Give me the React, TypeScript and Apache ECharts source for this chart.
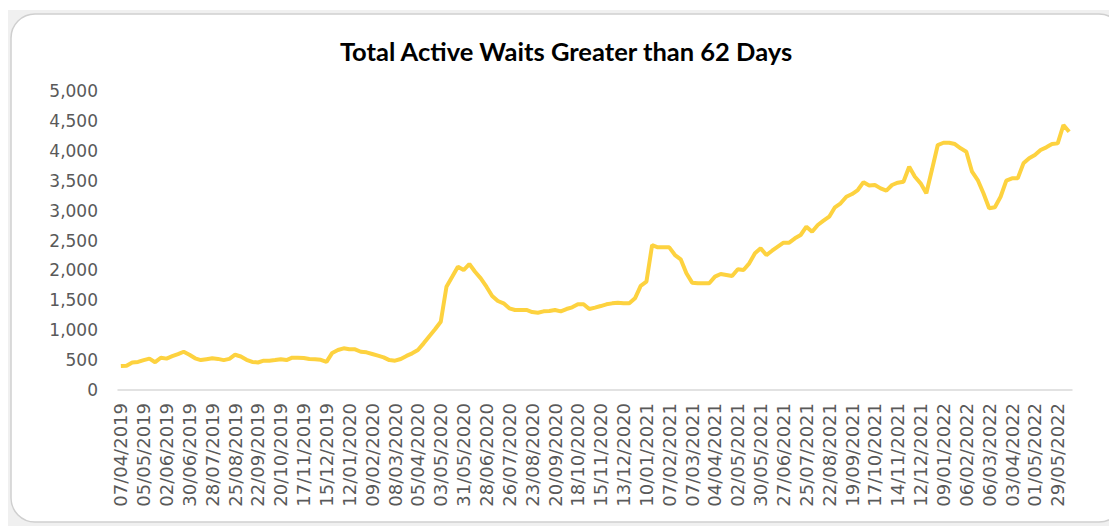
import React, { useEffect, useRef } from "react";
import * as echarts from "echarts";

const TITLE = "Total Active Waits Greater than 62 Days";
const START_DATE = "2019-04-07";
const WEEK_COUNT = 167;

const Y_MIN = 0;
const Y_MAX = 5000;
const Y_STEP = 500;

const values2019 = [
  400, 405, 460, 470, 500, 525, 465, 540, 525, 565, 600, 640, 590, 530, 500, 515,
  530, 520, 500, 520, 590, 560, 505, 470, 460, 490, 490, 500, 515, 500, 540, 540,
  535, 518, 513, 505, 470, 620, 669, 697,
];
const values2020 = [
  680, 680, 640, 630, 602, 574, 546, 500, 490, 518, 570, 613, 669, 780, 900, 1015,
  1142, 1727, 1894, 2062, 2006, 2107, 1978, 1867, 1727, 1572, 1488, 1449, 1366, 1338,
  1338, 1338, 1304, 1293, 1315, 1320, 1338, 1315, 1354, 1382, 1433, 1433, 1354, 1377,
  1404, 1433, 1449, 1460, 1449, 1449, 1533, 1740, 1811,
];
const values2021 = [
  2424, 2386, 2386, 2386, 2257, 2185, 1951, 1795, 1784, 1784, 1784, 1895, 1940, 1923,
  1906, 2018, 2007, 2118, 2285, 2369, 2257, 2329, 2396, 2463, 2463, 2536, 2592, 2731,
  2647, 2759, 2831, 2898, 3055, 3122, 3232, 3277, 3344, 3475, 3420, 3428, 3372, 3333,
  3428, 3466, 3483, 3734, 3566, 3456, 3289, 3690,
];
const values2022 = [
  4096, 4135, 4135, 4113, 4041, 3985, 3650, 3511, 3289, 3038, 3055, 3232, 3500, 3539,
  3539, 3790, 3874, 3929, 4013, 4058, 4113, 4124, 4431, 4319,
];

const seriesValues = [...values2019, ...values2020, ...values2021, ...values2022];

function pad(n: number) {
  return n < 10 ? "0" + n : "" + n;
}

function weeklyDates(start: string, count: number): string[] {
  const [y, m, d] = start.split("-").map(Number);
  const base = Date.UTC(y, m - 1, d);
  const out: string[] = [];
  for (let i = 0; i < count; i++) {
    const dt = new Date(base + i * 7 * 86400000);
    out.push(pad(dt.getUTCDate()) + "/" + pad(dt.getUTCMonth() + 1) + "/" + dt.getUTCFullYear());
  }
  return out;
}

const categories = weeklyDates(START_DATE, WEEK_COUNT);

export default function App() {
  const ref = useRef<HTMLDivElement>(null);
  useEffect(() => {
    if (!ref.current) return;
    const chart = echarts.init(ref.current, null, { renderer: "svg" });
    chart.setOption({
      animation: false,
      backgroundColor: "#ffffff",
      graphic: [
        {
          type: "rect",
          z: -10,
          silent: true,
          shape: { x: 8, y: 10, width: 1101, height: 516 },
          style: { fill: "#f0f0f0" },
        },
        {
          type: "rect",
          z: -9,
          silent: true,
          shape: { x: 11, y: 14, width: 1112, height: 508, r: 24 },
          style: { fill: "#ffffff", stroke: "#cfcfcf", lineWidth: 1.5 },
        },
      ],
      title: {
        text: TITLE,
        left: 561,
        top: 33,
        textAlign: "center",
        textStyle: {
          fontFamily: "Lato",
          fontWeight: "bold",
          fontSize: 25.5,
          color: "#000000",
        },
      },
      grid: { left: 118, right: 37, top: 91, bottom: 136, containLabel: false },
      xAxis: {
        type: "category",
        data: categories,
        boundaryGap: true,
        axisLine: { show: true, lineStyle: { color: "#d9d9d9", width: 1.5 } },
        axisTick: { show: false },
        axisLabel: {
          interval: 3,
          rotate: 90,
          margin: 13,
          color: "#595959",
          fontFamily: "DejaVu Sans",
          fontSize: 18,
        },
      },
      yAxis: {
        type: "value",
        min: Y_MIN,
        max: Y_MAX,
        interval: Y_STEP,
        axisLine: { show: false },
        axisTick: { show: false },
        splitLine: { show: false },
        axisLabel: {
          margin: 20,
          color: "#595959",
          fontFamily: "DejaVu Sans",
          fontSize: 17,
          formatter: (v: number) => v.toLocaleString("en-US"),
        },
      },
      series: [
        {
          type: "line",
          data: seriesValues,
          symbol: "none",
          lineStyle: { color: "#fdd23f", width: 4 },
          itemStyle: { color: "#fdd23f" },
        },
      ],
    });
    return () => chart.dispose();
  }, []);
  return (
    <div
      ref={ref}
      style={{ position: "fixed", left: 0, top: 0, width: 1109, height: 526 }}
    />
  );
}
